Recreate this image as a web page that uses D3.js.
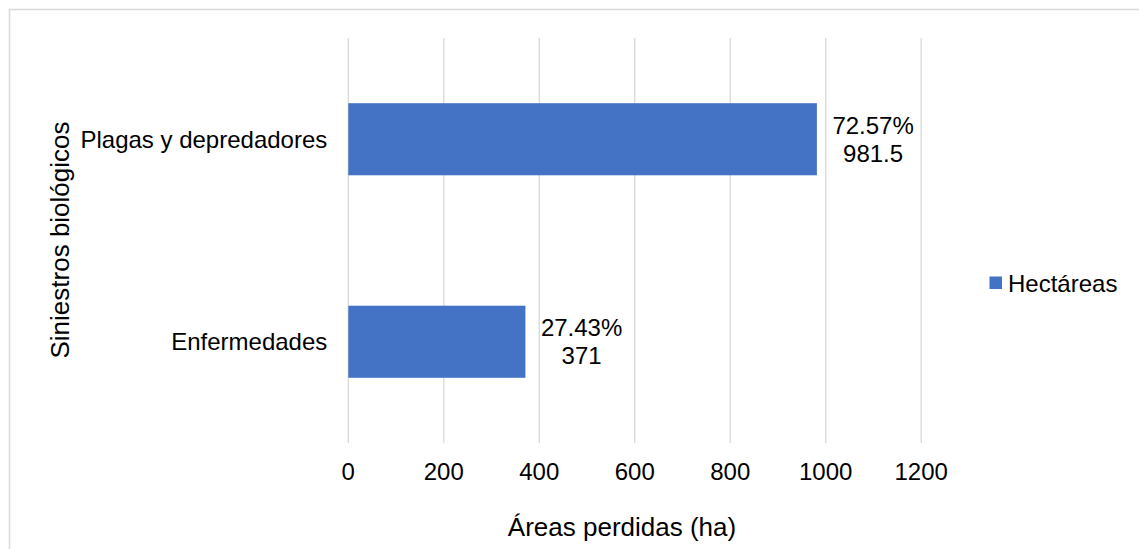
<!DOCTYPE html>
<html>
<head>
<meta charset="utf-8">
<script src="https://cdn.jsdelivr.net/npm/d3@7"></script>
<style>
  html, body { margin: 0; padding: 0; background: #fff; }
  svg { display: block; font-family: "Liberation Sans", Arial, sans-serif; }
</style>
</head>
<body>
<div id="chart"></div>
<script>
// chart data
const categories = ["Plagas y depredadores", "Enfermedades"];
const hectares = [981.5, 371];
const percents = ["72.57%", "27.43%"];
const xTicks = [0, 200, 400, 600, 800, 1000, 1200];
const seriesName = "Hectáreas";

const width = 1139;
const height = 549;
const plot = {left: 348.3, right: 921.2, top: 38, bottom: 443};
const labelSize = 24;

const svg = d3.select("#chart")
  .append("svg")
  .attr("width", width)
  .attr("height", height);

// outer chart border (cut by the window on right/bottom)
svg.append("rect")
  .attr("x", 9.5).attr("y", 9.5)
  .attr("width", 1160).attr("height", 580)
  .attr("fill", "#fff")
  .attr("stroke", "#d9d9d9")
  .attr("stroke-width", 1.5);

const x = d3.scaleLinear().domain([0, 1200]).range([plot.left, plot.right]);
const y = d3.scaleBand()
  .domain(categories)
  .range([plot.top, plot.bottom])
  .paddingInner(0.644)
  .paddingOuter(0.322);

// vertical gridlines
svg.append("g")
  .selectAll("line")
  .data(xTicks)
  .join("line")
    .attr("x1", d => x(d)).attr("x2", d => x(d))
    .attr("y1", plot.top).attr("y2", plot.bottom)
    .attr("stroke", "#d9d9d9")
    .attr("stroke-width", 1.3);

// x tick labels
svg.append("g")
  .attr("font-size", labelSize)
  .attr("fill", "#000")
  .selectAll("text")
  .data(xTicks)
  .join("text")
    .attr("x", d => x(d))
    .attr("y", 472)
    .attr("dy", "0.35em")
    .attr("text-anchor", "middle")
    .text(d => d);

// bars
svg.append("g")
  .selectAll("rect")
  .data(categories)
  .join("rect")
    .attr("x", x(0))
    .attr("y", d => y(d))
    .attr("width", (d, i) => x(hectares[i]) - x(0))
    .attr("height", y.bandwidth())
    .attr("fill", "#4472c4");

// category labels
svg.append("g")
  .attr("font-size", labelSize)
  .selectAll("text")
  .data(categories)
  .join("text")
    .attr("x", plot.left - 21)
    .attr("y", d => y(d) + y.bandwidth() / 2)
    .attr("dy", "0.35em")
    .attr("text-anchor", "end")
    .text(d => d);

// data labels (percent + value, two lines)
const labels = svg.append("g")
  .attr("font-size", labelSize)
  .selectAll("g")
  .data(categories)
  .join("g");

labels.each(function(d, i) {
  const g = d3.select(this);
  const cy = y(d) + y.bandwidth() / 2;
  const t1 = g.append("text").attr("y", cy - 14).attr("dy", "0.35em")
    .attr("text-anchor", "middle").text(percents[i]);
  const t2 = g.append("text").attr("y", cy + 14).attr("dy", "0.35em")
    .attr("text-anchor", "middle").text(hectares[i]);
  const w = Math.max(t1.node().getComputedTextLength(), t2.node().getComputedTextLength());
  const cx = x(hectares[i]) + 15.5 + w / 2;
  t1.attr("x", cx);
  t2.attr("x", cx);
});

// axis titles
svg.append("text")
  .attr("x", 622)
  .attr("y", 527)
  .attr("dy", "0.35em")
  .attr("text-anchor", "middle")
  .attr("font-size", 26)
  .text("Áreas perdidas (ha)");

svg.append("text")
  .attr("transform", "translate(60,240) rotate(-90)")
  .attr("dy", "0.35em")
  .attr("text-anchor", "middle")
  .attr("font-size", 26)
  .text("Siniestros biológicos");

// legend
const legend = svg.append("g").attr("transform", "translate(989.5,276.5)");
legend.append("rect")
  .attr("width", 12.5).attr("height", 12.5)
  .attr("fill", "#4472c4");
legend.append("text")
  .attr("x", 18.5)
  .attr("y", 7.5)
  .attr("dy", "0.35em")
  .attr("font-size", labelSize)
  .text(seriesName);
</script>
</body>
</html>
